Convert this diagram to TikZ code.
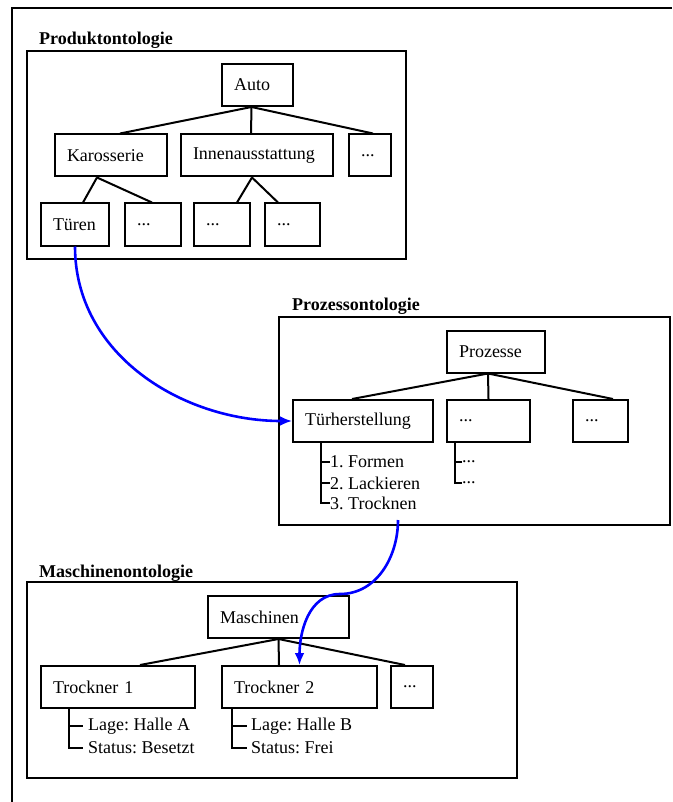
\documentclass[tikz,border=0pt]{standalone}
\usepackage{fontspec}
\setmainfont{Liberation Serif}
\frenchspacing
\usetikzlibrary{arrows.meta, positioning, calc}
\tikzset{
  obox/.style={draw, line width=2pt, inner xsep=12pt, inner ysep=0pt, minimum height=42pt, align=left, font=\fontsize{18pt}{21pt}\selectfont},
  groupframe/.style={draw, line width=1.8pt},
  grouptitle/.style={anchor=base west, inner sep=0pt, font=\fontsize{18pt}{21pt}\selectfont\bfseries},
  treeline/.style={line width=2pt},
  listitem/.style={anchor=west, inner sep=0pt, font=\fontsize{18pt}{21pt}\selectfont},
  linkarrow/.style={line width=2.6pt, draw=blue, -{Latex[length=12pt, width=10pt]}}
}

\begin{document}
\begin{tikzpicture}[x=1pt, y=-1pt]
  \useasboundingbox (0,0) rectangle (672,802);
  % outer frame (only top and left edge visible)
  \draw[line width=2pt] (12,802) -- (12,8) -- (672,8);

  % Produktontologie
  \node[grouptitle] (ptitle) at (39,45) {Produktontologie};
  \draw[groupframe] (27,51) rectangle (406,259);
  \node[obox, text width=47pt] (auto) at (257.5,85) {Auto};
  \node[obox, text width=88pt] (kar) at (111,155.5) {Karosserie};
  \node[obox, text width=128pt] (innen) at (257,155.5) {Innenausstattung};
  \node[obox, text width=18pt] (pdots) at (370,155.5) {...};
  \node[obox, text width=44pt] (tueren) at (75,224.5) {Türen};
  \node[obox, text width=32pt] (kdots) at (153,224.5) {...};
  \node[obox, text width=32pt] (idots1) at (222,224.5) {...};
  \node[obox, text width=31pt] (idots2) at (292.5,224.5) {...};
  \draw[treeline] ([xshift=-6pt]auto.south) -- ([xshift=9pt]kar.north);
  \draw[treeline] ([xshift=-6pt]auto.south) -- ([xshift=-6pt]innen.north);
  \draw[treeline] ([xshift=-6pt]auto.south) -- ([xshift=3pt]pdots.north);
  \draw[treeline] ([xshift=-14pt]kar.south) -- ([xshift=8pt]tueren.north);
  \draw[treeline] ([xshift=-14pt]kar.south) -- ([xshift=-1pt]kdots.north);
  \draw[treeline] ([xshift=-5pt]innen.south) -- ([xshift=15pt]idots1.north);
  \draw[treeline] ([xshift=-5pt]innen.south) -- ([xshift=-14.5pt]idots2.north);

  % Prozessontologie
  \node[grouptitle] (ztitle) at (292,310) {Prozessontologie};
  \draw[groupframe] (279,317) rectangle (670,525);
  \node[obox, text width=74pt] (proz) at (496,351.5) {Prozesse};
  \node[obox, text width=116pt] (tuer) at (363,421) {Türherstellung};
  \node[obox, text width=59pt] (zdots1) at (488.5,421) {...};
  \node[obox, text width=31pt] (zdots2) at (600.5,421) {...};
  \draw[treeline] ([xshift=-8pt]proz.south) -- ([xshift=-11pt]tuer.north);
  \draw[treeline] ([xshift=-8pt]proz.south) -- (zdots1.north);
  \draw[treeline] ([xshift=-8pt]proz.south) -- ([xshift=12.5pt]zdots2.north);
  \node[listitem] (step1) at (330,462) {1. Formen};
  \node[listitem] (step2) at (330,483) {2. Lackieren};
  \node[listitem] (step3) at (330,503) {3. Trocknen};
  \foreach \s in {step1, step2, step3}
    \draw[treeline] ([xshift=-42pt]tuer.south) |- (\s.west);
  \node[listitem] (zsub1) at (462,462) {...};
  \node[listitem] (zsub2) at (462,483) {...};
  \foreach \s in {zsub1, zsub2}
    \draw[treeline] ([xshift=-33.5pt]zdots1.south) |- (\s.west);

  % Maschinenontologie
  \node[grouptitle] (mtitle) at (39,577) {Maschinenontologie};
  \draw[groupframe] (27,582) rectangle (517,778);
  \node[obox, text width=117pt] (masch) at (278.5,617) {Maschinen};
  \node[obox, text width=130pt] (tr1) at (118,687) {Trockner 1};
  \node[obox, text width=131pt] (tr2) at (299.5,687) {Trockner 2};
  \node[obox, text width=18pt] (mdots) at (412,687) {...};
  \draw[treeline] (masch.south) -- ([xshift=22pt]tr1.north);
  \draw[treeline] (masch.south) -- ([xshift=-20.5pt]tr2.north);
  \draw[treeline] (masch.south) -- ([xshift=-7pt]mdots.north);
  \node[listitem] (lage1) at (88,726) {Lage: Halle A};
  \node[listitem] (stat1) at (88,748) {Status: Besetzt};
  \foreach \s in {lage1, stat1}
    \draw[treeline] ([xshift=-49pt]tr1.south) |- ([xshift=-5pt]\s.west);
  \node[listitem] (lage2) at (251,726) {Lage: Halle B};
  \node[listitem] (stat2) at (251,748) {Status: Frei};
  \foreach \s in {lage2, stat2}
    \draw[treeline] ([xshift=-67.5pt]tr2.south) |- ([xshift=-4pt]\s.west);

  % links between the ontologies
  \draw[linkarrow] (tueren.south) to[out=-90, in=180] (tuer.west);
  \coordinate (dryout) at (398,520);
  \coordinate (dryturn) at (340,594);
  \draw[linkarrow] (dryout) to[out=-90, in=0] (dryturn) to[out=180, in=90] (tr2.north);
\end{tikzpicture}
\end{document}
